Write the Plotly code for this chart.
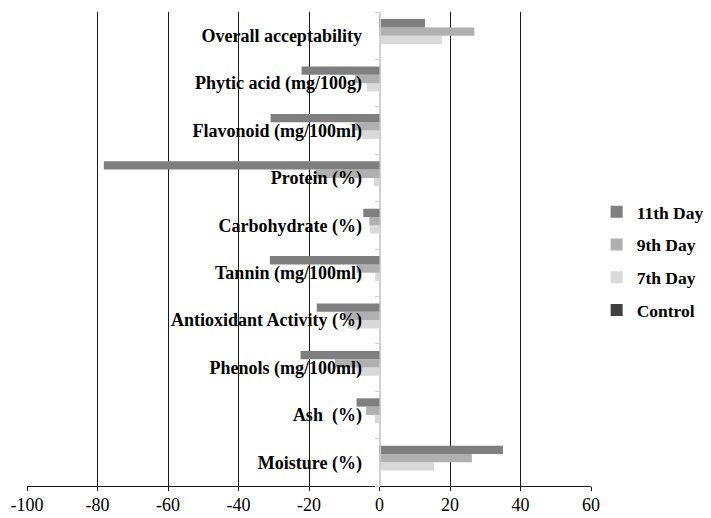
import plotly.graph_objects as go

# categories listed bottom-to-top
categories = ["Moisture (%)", "Ash\u00a0 (%)", "Phenols (mg/100ml)", "Antioxidant Activity (%)",
              "Tannin (mg/100ml)", "Carbohydrate (%)", "Protein (%)", "Flavonoid (mg/100ml)",
              "Phytic acid (mg/100g)", "Overall acceptability"]

control = [0, 0, 0, 0, 0, 0, 0, 0, 0, 0]
day7 = [15.5, -1.3, -6.5, -9.0, -1.2, -2.7, -1.6, -6.0, -3.6, 17.7]
day9 = [26.2, -3.8, -12.6, -10.0, -6.5, -2.9, -18.0, -7.0, -7.0, 26.9]
day11 = [35.0, -6.5, -22.4, -17.8, -31.1, -4.6, -78.2, -30.9, -22.1, 12.9]

x_ticks = [-100, -80, -60, -40, -20, 0, 20, 40, 60]

series = [("Control", control, "#404040", 4),
          ("7th Day", day7, "#d9d9d9", 3),
          ("9th Day", day9, "#b0b0b0", 2),
          ("11th Day", day11, "#7f7f7f", 1)]

SERIF = "Liberation Serif, 'Times New Roman', 'DejaVu Serif', serif"

fig = go.Figure()
for name, vals, col, rank in series:
    fig.add_trace(go.Bar(y=categories, x=vals, name=name, orientation="h",
                         marker=dict(color=col, line=dict(width=0)),
                         legendgroup=name, legendrank=rank))

# page body has an 8px margin; the figure is sized to fit the 711x518 window
fig.update_layout(
    width=703, height=510,
    margin=dict(l=19, r=120, t=4, b=32, autoexpand=False),
    paper_bgcolor="white", plot_bgcolor="white",
    barmode="group", bargap=0.3, bargroupgap=0,
    font=dict(family=SERIF, color="black"),
    showlegend=True,
    legend=dict(traceorder="grouped", x=1.01, xanchor="left", y=0.475, yanchor="middle",
                font=dict(family=SERIF, size=17.5, weight="bold", color="black"),
                tracegroupgap=7, itemwidth=30, bgcolor="rgba(0,0,0,0)"),
    xaxis=dict(range=[-100, 60], tickvals=x_ticks, ticktext=[str(v) for v in x_ticks],
               automargin=False,
               showgrid=True, gridcolor="#1a1a1a", gridwidth=1,
               zeroline=True, zerolinecolor="#d0d0d0", zerolinewidth=1,
               showline=True, linecolor="#1a1a1a", linewidth=1,
               ticks="outside", ticklen=4, tickcolor="#1a1a1a", ticklabelstandoff=-2,
               tickfont=dict(family=SERIF, size=18, color="black")),
    yaxis=dict(type="category", categoryorder="array", categoryarray=categories,
               anchor="free", position=0.625, side="left", automargin=False,
               showgrid=False, zeroline=False,
               showline=True, linecolor="#d0d0d0", linewidth=1,
               ticks="outside", ticklen=5, tickcolor="#d0d0d0", tickson="boundaries",
               ticklabelstandoff=14,
               tickfont=dict(family=SERIF, size=18, weight="bold", color="black")),
)

fig.write_html("out.html")
